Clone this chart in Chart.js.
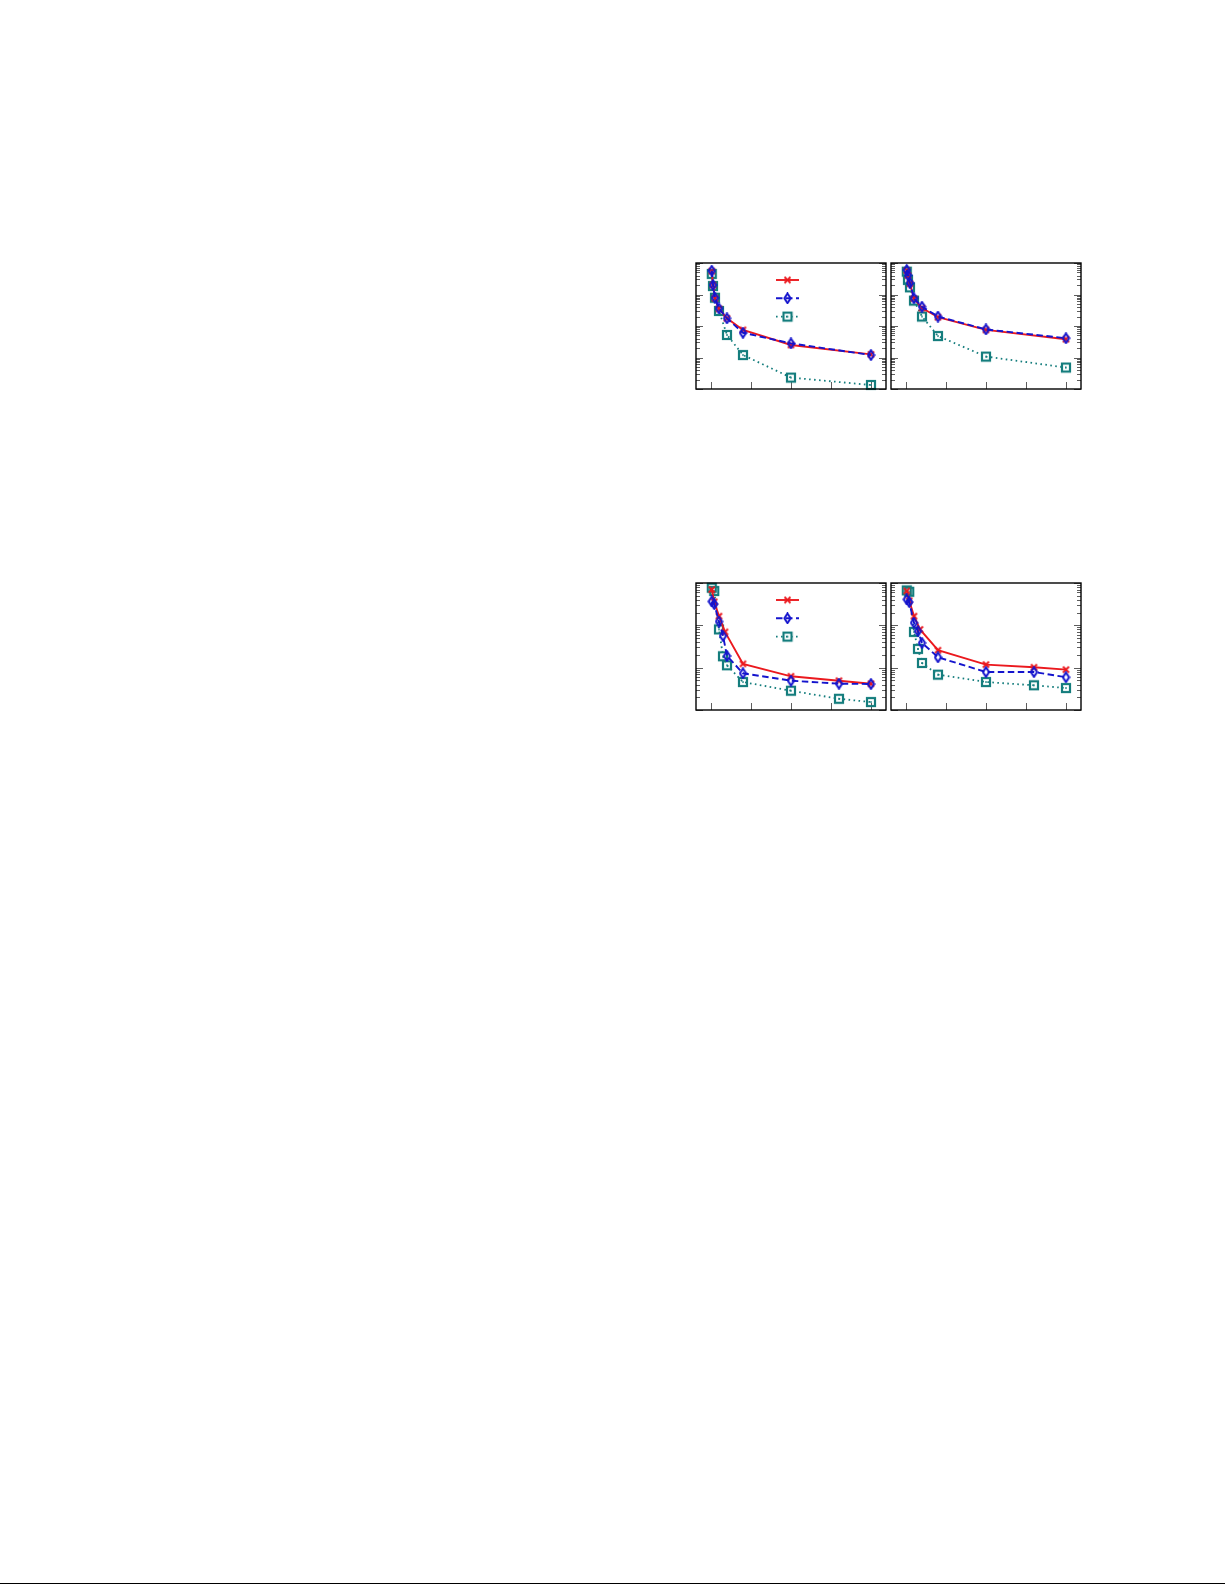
<!DOCTYPE html>
<html><head><meta charset="utf-8">
<script src="https://cdn.jsdelivr.net/npm/chart.js@4.4.0/dist/chart.umd.min.js"></script>
<style>
html,body{margin:0;padding:0;background:#fff;}
body{width:1225px;height:1585px;position:relative;overflow:hidden;font-family:"DejaVu Sans",sans-serif;}
canvas{position:absolute;display:block;}
#rule{position:absolute;left:0;top:1583px;width:1225px;height:1.4px;background:#000;}
</style></head><body>
<canvas id="cA"></canvas>
<canvas id="cB"></canvas>
<canvas id="cC"></canvas>
<canvas id="cD"></canvas>
<div id="rule"></div>
<script>
// ---------------- data ----------------
const xTicks = [0, 100, 200, 300, 400];
const topX = [2, 5, 10, 20, 40, 80, 200, 400];
const botX = [2, 8, 20, 30, 40, 80, 200, 320, 400];
const botRedX = [2, 8, 20, 35, 80, 200, 320, 400];

// top-left panel
const aRed  = [0.55, 0.2, 0.076, 0.035, 0.0175, 0.0075, 0.0025, 0.00126];
const aBlue = [0.57, 0.2, 0.079, 0.036, 0.0175, 0.0061, 0.0028, 0.0012];
const aTeal = [0.45, 0.186, 0.079, 0.030, 0.0052, 0.0012, 0.00023, 0.000134];
// top-right panel
const bRed  = [0.58, 0.40, 0.22, 0.074, 0.037, 0.019, 0.0075, 0.0038];
const bBlue = [0.60, 0.41, 0.23, 0.076, 0.041, 0.020, 0.0078, 0.0041];
const bTeal = [0.53, 0.29, 0.169, 0.064, 0.020, 0.0048, 0.00107, 0.00048];
// bottom-left panel
const cRed  = [0.70, 0.36, 0.165, 0.070, 0.0123, 0.00625, 0.00492, 0.00418];
const cBlue = [0.366, 0.318, 0.123, 0.0564, 0.0189, 0.00736, 0.00492, 0.00418, 0.00411];
const cTeal = [0.774, 0.646, 0.080, 0.0186, 0.0114, 0.00458, 0.00285, 0.00184, 0.00154];
// bottom-right panel
const dRed  = [0.65, 0.38, 0.165, 0.080, 0.0258, 0.0118, 0.0102, 0.00897];
const dBlue = [0.409, 0.355, 0.115, 0.0728, 0.0385, 0.0176, 0.0079, 0.0079, 0.00593];
const dTeal = [0.668, 0.62, 0.070, 0.0277, 0.0129, 0.00683, 0.00458, 0.00383, 0.0033];

const topRange = [1e-4, 1];
const botRange = [1e-3, 1];

// ---------------- styles ----------------
const RED = 'rgb(235,25,30)';
const BLUE = 'rgb(20,20,205)';
const TEAL = 'rgb(20,125,125)';

function makeMarker(kind, color) {
  const c = document.createElement('canvas');
  let w, h;
  if (kind === 'cross') { w = 9; h = 9; }
  else if (kind === 'diamond') { w = 9; h = 12; }
  else { w = 12; h = 12; }
  c.width = w; c.height = h;
  const ctx = c.getContext('2d');
  ctx.strokeStyle = color; ctx.fillStyle = color;
  if (kind === 'cross') {
    ctx.lineWidth = 1.9;
    ctx.beginPath();
    ctx.moveTo(1.5, 1.5); ctx.lineTo(w - 1.5, h - 1.5);
    ctx.moveTo(w - 1.5, 1.5); ctx.lineTo(1.5, h - 1.5);
    ctx.stroke();
  } else if (kind === 'diamond') {
    ctx.lineWidth = 2;
    ctx.beginPath();
    ctx.moveTo(w / 2, 1.2); ctx.lineTo(w - 1.4, h / 2);
    ctx.lineTo(w / 2, h - 1.2); ctx.lineTo(1.4, h / 2);
    ctx.closePath();
    ctx.stroke();
  } else {
    ctx.lineWidth = 2.2;
    ctx.strokeRect(2, 2, w - 4, h - 4);
    ctx.fillRect(w / 2 - 0.8, h / 2 - 0.8, 1.6, 1.6);
  }
  return c;
}
const mkCross = makeMarker('cross', RED);
const mkDiamond = makeMarker('diamond', BLUE);
const mkSquare = makeMarker('square', TEAL);

const STY = {
  red:  { borderColor: RED,  borderWidth: 1.9, borderDash: [],        pointStyle: mkCross,   order: 1 },
  blue: { borderColor: BLUE, borderWidth: 1.9, borderDash: [6.5, 3.5], pointStyle: mkDiamond, order: 0 },
  teal: { borderColor: TEAL, borderWidth: 1.8, borderDash: [1.6, 3.4], pointStyle: mkSquare,  order: 2 }
};

function series(xs, ys, sty) {
  return Object.assign({
    data: xs.map((x, i) => ({ x: x, y: ys[i] })),
    fill: false, tension: 0, spanGaps: true, clip: 8,
    pointRadius: 5, pointHoverRadius: 5, backgroundColor: 'transparent'
  }, sty);
}

// ---------------- frame / ticks / legend plugin ----------------
const framePlugin = {
  id: 'frame',
  beforeDatasetsDraw(chart) {
    const ctx = chart.ctx, a = chart.chartArea;
    const xs = chart.scales.x, ys = chart.scales.y;
    ctx.save();
    ctx.strokeStyle = '#333'; ctx.lineWidth = 0.8;
    ctx.beginPath();
    const lo = Math.floor(Math.log10(ys.min) + 1e-9), hi = Math.ceil(Math.log10(ys.max) - 1e-9);
    for (let d = lo; d <= hi; d++) {
      for (let m = 1; m <= 9; m++) {
        const v = m * Math.pow(10, d);
        if (v < ys.min * 0.999 || v > ys.max * 1.001) continue;
        const py = Math.round(ys.getPixelForValue(v)) + 0.5;
        const L = m === 1 ? 7 : 4;
        ctx.moveTo(a.left, py); ctx.lineTo(a.left + L, py);
        ctx.moveTo(a.right, py); ctx.lineTo(a.right - L, py);
      }
    }
    xTicks.forEach(v => {
      const px = Math.round(xs.getPixelForValue(v)) + 0.5;
      ctx.moveTo(px, a.bottom); ctx.lineTo(px, a.bottom - 7);
    });
    ctx.stroke();
    ctx.restore();
  },
  afterDatasetsDraw(chart, args, opts) {
    const ctx = chart.ctx, a = chart.chartArea;
    ctx.save();
    ctx.strokeStyle = '#000'; ctx.lineWidth = 1.4;
    ctx.strokeRect(a.left, a.top, a.right - a.left, a.bottom - a.top);
    if (opts && opts.legend) {
      const ds = opts.legendOrder.map(i => chart.data.datasets[i]);
      ds.forEach((d, i) => {
        const x0 = a.left + 80, x1 = a.left + 103, y = a.top + 17 + i * 18.3;
        ctx.save();
        ctx.strokeStyle = d.borderColor; ctx.lineWidth = d.borderWidth;
        ctx.setLineDash(d.borderDash || []);
        ctx.beginPath(); ctx.moveTo(x0, y); ctx.lineTo(x1, y); ctx.stroke();
        ctx.restore();
        const img = d.pointStyle;
        const cx = (x0 + x1) / 2;
        ctx.drawImage(img, cx - img.width / 2, y - img.height / 2);
      });
    }
    ctx.restore();
  }
};

const PAD = 8;
function makeChart(id, area, datasets, range, legend) {
  const cv = document.getElementById(id);
  const w = area[2] - area[0], h = area[3] - area[1];
  cv.width = w + 2 * PAD; cv.height = h + 2 * PAD;
  cv.style.left = (area[0] - PAD) + 'px';
  cv.style.top = (area[1] - PAD) + 'px';
  cv.style.width = (w + 2 * PAD) + 'px';
  cv.style.height = (h + 2 * PAD) + 'px';
  new Chart(cv, {
    type: 'line',
    data: { datasets: datasets },
    options: {
      responsive: false, animation: false, events: [],
      devicePixelRatio: 1,
      layout: { padding: PAD },
      plugins: {
        legend: { display: false }, tooltip: { enabled: false },
        frame: { legend: legend, legendOrder: [1, 0, 2] }
      },
      scales: {
        x: { type: 'linear', min: -37.5, max: 437.5, display: false },
        y: { type: 'logarithmic', min: range[0], max: range[1], display: false }
      }
    },
    plugins: [framePlugin]
  });
}

makeChart('cA', [696, 263, 886, 389], [
  series(topX, aBlue, STY.blue), series(topX, aRed, STY.red), series(topX, aTeal, STY.teal)
], topRange, true);
makeChart('cB', [891, 263, 1081, 389], [
  series(topX, bBlue, STY.blue), series(topX, bRed, STY.red), series(topX, bTeal, STY.teal)
], topRange, false);
makeChart('cC', [696, 583, 886, 710], [
  series(botX, cBlue, STY.blue), series(botRedX, cRed, STY.red), series(botX, cTeal, STY.teal)
], botRange, true);
makeChart('cD', [891, 583, 1081, 710], [
  series(botX, dBlue, STY.blue), series(botRedX, dRed, STY.red), series(botX, dTeal, STY.teal)
], botRange, false);
</script>
</body></html>
